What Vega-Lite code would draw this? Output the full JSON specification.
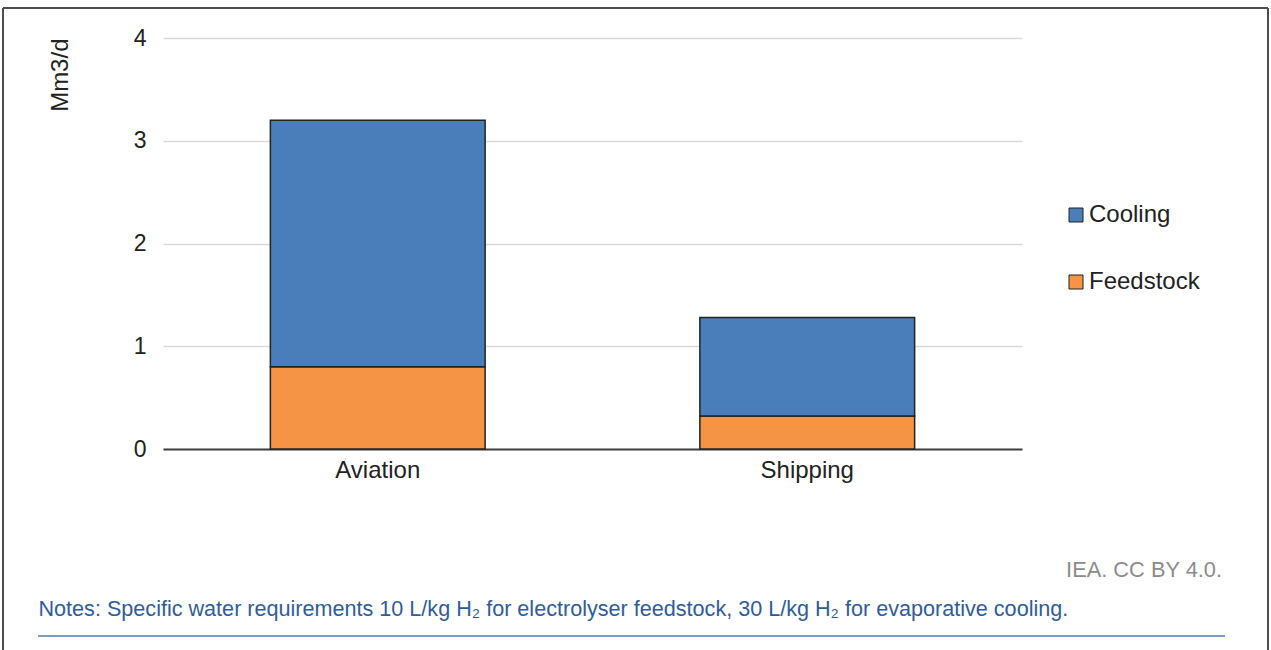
{
  "$schema": "https://vega.github.io/schema/vega-lite/v6.json",
  "padding": {"left": 32, "top": 27, "right": 0, "bottom": 10},
  "background": "white",
  "data": {"values": [
    {"sector": "Aviation", "use": "Feedstock", "value": 0.8},
    {"sector": "Aviation", "use": "Cooling", "value": 2.4},
    {"sector": "Shipping", "use": "Feedstock", "value": 0.32},
    {"sector": "Shipping", "use": "Cooling", "value": 0.96}
  ]},
  "config": {
    "view": {"stroke": null},
    "font": "Liberation Sans"
  },
  "spacing": 187,
  "bounds": "flush",
  "vconcat": [
    {
      "width": 859,
      "height": 411,
      "layer": [
        {
          "mark": {"type": "bar", "stroke": "#222222", "strokeWidth": 1.5},
          "encoding": {
            "x": {
              "field": "sector", "type": "nominal",
              "scale": {"paddingInner": 0.5, "paddingOuter": 0.25},
              "axis": {
                "labelAngle": 0, "labelFontSize": 24, "labelColor": "#222222", "labelPadding": 9,
                "ticks": false, "domainColor": "#404040", "domainWidth": 2,
                "title": "Notes: Specific water requirements 10 L/kg H₂ for electrolyser feedstock, 30 L/kg H₂ for evaporative cooling.",
                "titleFontSize": 21.6, "titleFontWeight": "normal", "titleColor": "#2f5d9c",
                "titleAnchor": "start", "titleAlign": "left", "titleBaseline": "middle",
                "titleX": -125, "titleY": 160
              }
            },
            "y": {
              "aggregate": "sum", "field": "value", "type": "quantitative",
              "scale": {"domain": [0, 4]},
              "axis": {
                "values": [0, 1, 2, 3, 4], "labelFontSize": 23, "labelColor": "#222222", "labelPadding": 17,
                "ticks": false, "domain": false, "gridColor": "#d9d9d9", "gridWidth": 1.5,
                "title": "Mm3/d", "titleFontSize": 24, "titleFontWeight": "normal", "titleColor": "#222222",
                "titleAngle": 270, "titleAlign": "right", "titleBaseline": "middle",
                "titleX": -103, "titleY": 0
              }
            },
            "color": {
              "field": "use", "type": "nominal",
              "scale": {"domain": ["Cooling", "Feedstock"], "range": ["#4a7ebb", "#f59444"]},
              "legend": {
                "title": null, "orient": "none", "legendX": 901, "legendY": 165,
                "symbolType": "square", "symbolSize": 196, "symbolStrokeColor": "#222222", "symbolStrokeWidth": 1,
                "labelFontSize": 24, "labelColor": "#222222", "labelOffset": 1, "rowPadding": 43
              }
            },
            "order": {"field": "use", "sort": "descending"}
          }
        },
        {
          "mark": {"type": "rule", "opacity": 0},
          "encoding": {
            "y": {
              "datum": 0, "type": "quantitative",
              "axis": {
                "orient": "right", "domain": false, "labels": false, "grid": false,
                "values": [4], "ticks": true, "tickSize": -1265, "tickColor": "#4d4d4d", "tickWidth": 2,
                "translate": -30, "offset": 276,
                "title": "IEA. CC BY 4.0.", "titleFontSize": 21.8, "titleFontWeight": "normal", "titleColor": "#8c8c8c",
                "titleAngle": 0, "titleAlign": "right", "titleBaseline": "middle",
                "titleX": -46, "titleY": 561.5
              }
            }
          }
        }
      ],
      "resolve": {"axis": {"y": "independent"}}
    },
    {
      "width": 1265,
      "height": 1,
      "mark": {"type": "rule", "opacity": 0},
      "encoding": {
        "x": {
          "datum": 0, "type": "quantitative",
          "scale": {"domain": [0, 1], "nice": false},
          "axis": {
            "domain": false, "labels": false, "grid": false, "title": null,
            "values": [0, 1], "ticks": true, "tickSize": -644, "tickColor": "#4d4d4d", "tickWidth": 2,
            "translate": -160, "offset": 175
          }
        },
        "y": {
          "datum": 0, "type": "quantitative",
          "scale": {"domain": [0, 1], "nice": false},
          "axis": {
            "orient": "left", "domain": false, "labels": false, "grid": false, "title": null,
            "values": [1], "ticks": true, "tickSize": -1187, "tickColor": "#7f9cc4", "tickWidth": 2,
            "translate": 0, "offset": 125
          }
        }
      }
    }
  ]
}
